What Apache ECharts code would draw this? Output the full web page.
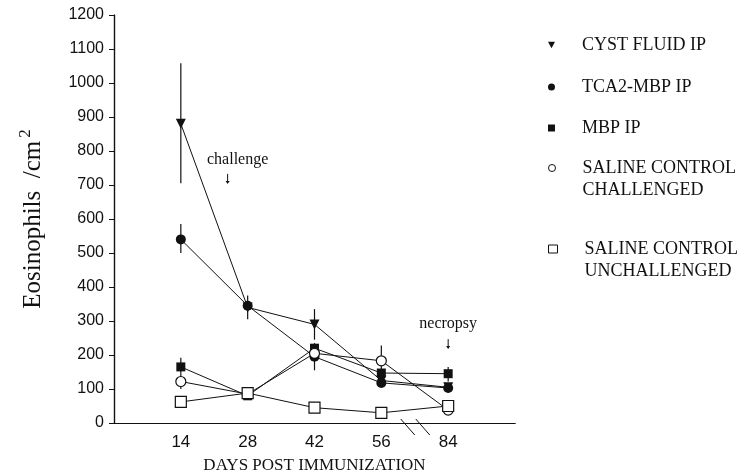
<!DOCTYPE html>
<html>
<head>
<meta charset="utf-8">
<script src="https://cdn.jsdelivr.net/npm/echarts@6/dist/echarts.min.js"></script>
<style>
  html, body { margin: 0; padding: 0; background: #fff; }
  #chart { width: 744px; height: 473px; }
</style>
</head>
<body>
<div id="chart"></div>
<script>
// days post immunization (x categories, drawn at positions 1..5)
const days = [14, 28, 42, 56, 84]
const yTicks = [0, 100, 200, 300, 400, 500, 600, 700, 800, 900, 1000, 1100, 1200]

// eosinophils / cm2
const cystFluid = [880, 340, 290, 125, 105]
const tca2Mbp = [540, 345, 195, 118, 103]
const mbp = [165, 80, 220, 147, 145]
const salineChallenged = [122, 85, 205, 183, 38]
const salineUnchallenged = [62, 88, 45, 30, 50]

// error bars: [day index, low, high]
const cystErr = [[0, 705, 1058], [1, 305, 375], [2, 245, 335]]
const tca2Err = [[0, 500, 585], [2, 155, 235]]
const mbpErr = [[0, 145, 192], [4, 122, 165]]
const salineErr = [[0, 100, 145], [3, 145, 228]]

const names = ['CYST FLUID IP', 'TCA2-MBP IP', 'MBP IP', 'SALINE CONTROL\nCHALLENGED', 'SALINE CONTROL\nUNCHALLENGED']

const INK = '#111'
const SERIF = '"Liberation Serif", "DejaVu Serif", serif'
const SANS = '"Liberation Sans", "DejaVu Sans", sans-serif'

const toPts = arr => arr.map((v, i) => [i + 1, v])
const toErr = arr => arr.map(e => [e[0] + 1, e[1], e[2]])

const chart = echarts.init(document.getElementById('chart'))

function lineSeries (name, values, symbol, size, open, rotate) {
  return {
    name: name,
    type: 'line',
    data: toPts(values),
    symbol: symbol,
    symbolSize: size,
    symbolRotate: rotate || 0,
    showAllSymbol: true,
    z: 3,
    lineStyle: { color: INK, width: 1 },
    itemStyle: open
      ? { color: '#fff', borderColor: INK, borderWidth: 1.2 }
      : { color: INK, borderColor: INK, borderWidth: 0 }
  }
}

function errSeries (arr) {
  return {
    type: 'custom',
    data: toErr(arr),
    z: 2,
    silent: true,
    encode: { x: 0, y: [1, 2] },
    renderItem: (params, api) => {
      const x = api.value(0)
      const lo = api.coord([x, api.value(1)])
      const hi = api.coord([x, api.value(2)])
      return {
        type: 'line',
        shape: { x1: lo[0], y1: lo[1], x2: hi[0], y2: hi[1] },
        style: { stroke: INK, lineWidth: 1.2 }
      }
    }
  }
}

// legend: one block per item; two-line entries get a blank leading line
// so the icon lines up with their first line
const legendTops = [45, 87, 128, 168, 249]
const legendIcons = ['path://M0,0 L10,0 L5,9 Z', 'circle', 'rect', 'circle', 'rect']
const legendOpen = [false, false, false, true, true]
const legends = names.map((n, i) => {
  const twoLine = n.indexOf('\n') > -1
  return {
    data: [n],
    orient: 'vertical',
    left: 548,
    top: twoLine ? legendTops[i] - 33 : legendTops[i] - 11,
    padding: 0,
    icon: legendIcons[i],
    itemWidth: i === 4 ? 9 : 7,
    itemHeight: i === 4 ? 8 : 7,
    selectedMode: false,
    formatter: name => (name.indexOf('\n') > -1 ? ' \n' + name : name),
    itemStyle: legendOpen[i]
      ? { color: '#fff', borderColor: INK, borderWidth: 1 }
      : { color: INK, borderWidth: 0 },
    textStyle: {
      fontFamily: SERIF,
      fontSize: 18,
      color: INK,
      lineHeight: 22,
      padding: [0, 0, 0, 22]
    }
  }
})

const option = {
  backgroundColor: '#fff',
  animation: false,
  grid: { left: 114, right: 229, top: 15, bottom: 50, outerBoundsMode: 'none' },
  legend: legends,
  xAxis: [
    {
      type: 'value',
      min: 0,
      max: 6,
      interval: 1,
      name: 'DAYS POST IMMUNIZATION',
      nameLocation: 'middle',
      nameGap: 34,
      nameTextStyle: { fontFamily: SERIF, fontSize: 17, color: INK },
      axisLine: { lineStyle: { color: INK, width: 1.2 } },
      axisTick: { show: false },
      splitLine: { show: false },
      axisLabel: {
        fontFamily: SANS,
        fontSize: 17,
        color: INK,
        margin: 11,
        formatter: v => (v >= 1 && v <= days.length ? String(days[v - 1]) : '')
      }
    },
    {
      type: 'value',
      position: 'top',
      min: 0,
      max: 6,
      axisLine: { show: true, lineStyle: { color: INK, width: 1.2 } },
      axisTick: { show: false },
      axisLabel: { show: false },
      splitLine: { show: false }
    }
  ],
  yAxis: [
    {
      type: 'value',
      min: yTicks[0],
      max: yTicks[yTicks.length - 1],
      interval: 100,
      name: '{b|Eosinophils  /cm}{s|2}',
      nameLocation: 'middle',
      nameGap: 64,
      nameTextStyle: {
        rich: {
          b: { fontFamily: SERIF, fontSize: 25, color: INK },
          s: { fontFamily: SERIF, fontSize: 17, color: INK, verticalAlign: 'bottom', padding: [0, 0, 16, 3] }
        }
      },
      axisLine: { show: true, lineStyle: { color: INK, width: 1.2 } },
      axisTick: { show: true, length: 5, lineStyle: { color: INK } },
      splitLine: { show: false },
      axisLabel: { fontFamily: SANS, fontSize: 16, color: INK, margin: 10, formatter: v => String(v) }
    },
    {
      type: 'value',
      position: 'right',
      min: 0,
      max: 1200,
      interval: 100,
      axisLine: { show: true, lineStyle: { color: INK, width: 1.2 } },
      axisTick: { show: true, inside: true, length: 5, lineStyle: { color: INK } },
      axisLabel: { show: false },
      splitLine: { show: false }
    }
  ],
  series: [
    errSeries(cystErr),
    errSeries(tca2Err),
    errSeries(mbpErr),
    errSeries(salineErr),
    lineSeries(names[0], cystFluid, 'triangle', 10, false, 180),
    lineSeries(names[1], tca2Mbp, 'circle', 10, false),
    lineSeries(names[2], mbp, 'rect', 9, false),
    lineSeries(names[3], salineChallenged, 'circle', 10, true),
    lineSeries(names[4], salineUnchallenged, 'rect', 11, true)
  ]
}

chart.setOption(option)

// annotations and axis break placed from data coordinates
const at = (x, y) => chart.convertToPixel({ gridIndex: 0 }, [x, y])
const brk = at(4.5, 0)
const ch = at(1.85, 775)
const chArrow = at(1.7, 718)
const ne = at(5, 292)
const neArrow = at(5, 232)
const annText = (p, text) => ({
  type: 'text', x: p[0], y: p[1],
  style: { text: text, fontFamily: SERIF, fontSize: 16, fill: INK, align: 'center', verticalAlign: 'middle' }
})
const arrow = p => ({
  type: 'group', children: [
    { type: 'line', shape: { x1: p[0], y1: p[1] - 5, x2: p[0], y2: p[1] + 4 }, style: { stroke: INK, lineWidth: 1 } },
    { type: 'polygon', shape: { points: [[p[0] - 2, p[1] + 2], [p[0] + 2, p[1] + 2], [p[0], p[1] + 5]] }, style: { fill: INK } }
  ]
})
const slash = dx => ({
  type: 'line',
  shape: { x1: brk[0] + dx - 7, y1: brk[1] - 4, x2: brk[0] + dx + 7, y2: brk[1] + 12 },
  style: { stroke: INK, lineWidth: 1 }
})
chart.setOption({
  graphic: [
    annText(ch, 'challenge'),
    arrow(chArrow),
    annText(ne, 'necropsy'),
    arrow(neArrow),
    slash(-7),
    slash(8)
  ]
})
</script>
</body>
</html>
